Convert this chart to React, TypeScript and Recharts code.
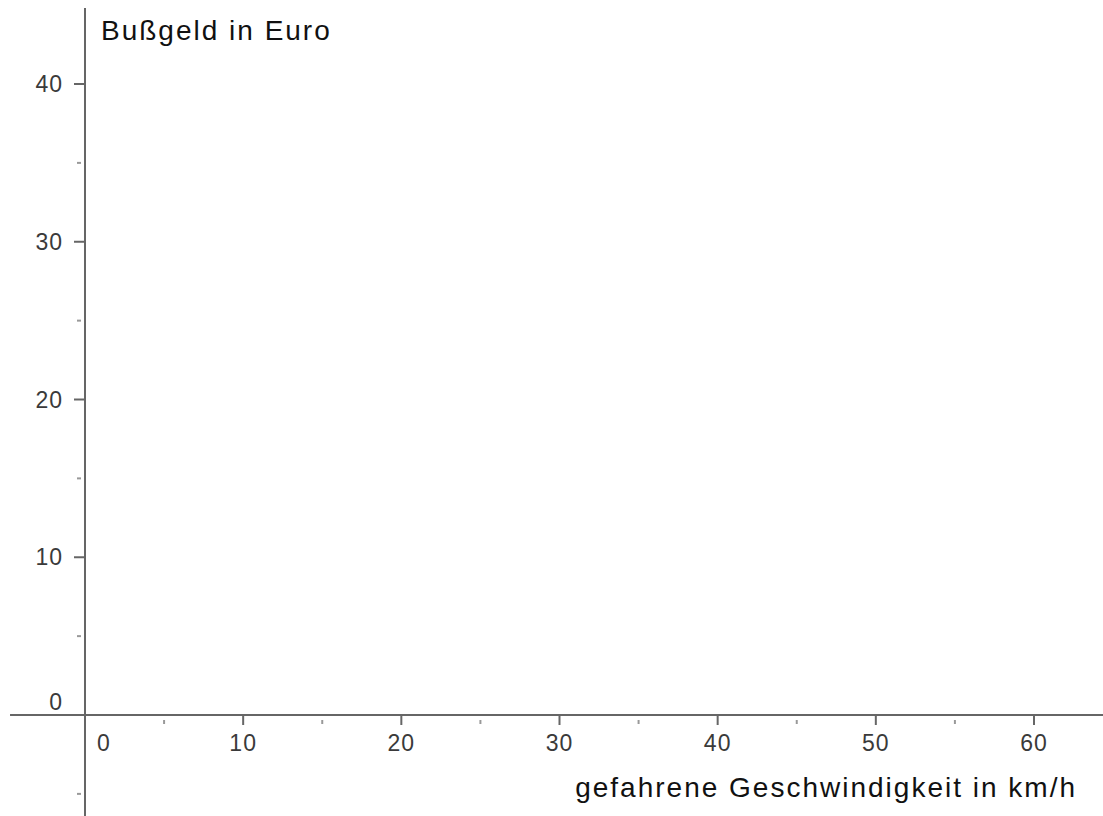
import React from 'react';
import { ComposedChart, XAxis, YAxis, ReferenceLine, ReferenceDot } from 'recharts';

// Axis tick values
const xMajorTicks = [0, 10, 20, 30, 40, 50, 60];
const xMinorTicks = [5, 15, 25, 35, 45, 55];
const yMajorTicks = [0, 10, 20, 30, 40];
const yMinorTicks = [-5, 5, 15, 25, 35];
const xTitle = 'gefahrene Geschwindigkeit in km/h';
const yTitle = 'Bußgeld in Euro';

// Visible window (data units)
const xDomain: [number, number] = [-5.374, 64.363];
const yDomain: [number, number] = [-6.402, 45.325];
const xAxisStart = -4.74;
const yAxisTop = 44.82;

const W = 1103;
const H = 816;
const AXIS = '#666666';
const LABEL = '#3a3a3a';
const FONT = '"Liberation Sans", Arial, sans-serif';

const XMajorTick = (label: number) => (props: any) => {
  const { cx, cy } = props;
  return (
    <g>
      <line x1={cx} y1={cy} x2={cx} y2={cy + 10} stroke={AXIS} strokeWidth={2} />
      <text
        x={label === 0 ? cx + 12 : cx}
        y={cy + 36}
        textAnchor={label === 0 ? 'start' : 'middle'}
        fontFamily={FONT}
        fontSize={23}
        letterSpacing={1}
        fill={LABEL}
      >
        {label}
      </text>
    </g>
  );
};

const YMajorTick = (label: number) => (props: any) => {
  const { cx, cy } = props;
  return (
    <g>
      <line x1={cx - 11} y1={cy} x2={cx} y2={cy} stroke={AXIS} strokeWidth={2} />
      <text
        x={cx - 22}
        y={label === 0 ? cy - 5 : cy + 8}
        textAnchor="end"
        fontFamily={FONT}
        fontSize={23}
        letterSpacing={1}
        fill={LABEL}
      >
        {label}
      </text>
    </g>
  );
};

const XMinorTick = (props: any) => {
  const { cx, cy } = props;
  return <line x1={cx} y1={cy + 5} x2={cx} y2={cy + 9} stroke="#999" strokeWidth={2} />;
};

const YMinorTick = (props: any) => {
  const { cx, cy } = props;
  return <line x1={cx - 8} y1={cy} x2={cx - 4} y2={cy} stroke="#999" strokeWidth={2} />;
};

const Titles = (props: any) => {
  const { cx, cy } = props;
  return (
    <g>
      <text x={cx + 16} y={cy - 675} fontFamily={FONT} fontSize={28} letterSpacing={2} fill="#111">
        {yTitle}
      </text>
      <text x={cx + 992} y={cy + 82} textAnchor="end" fontFamily={FONT} fontSize={28} letterSpacing={2} fill="#111">
        {xTitle}
      </text>
    </g>
  );
};

export default function App() {
  return (
    <div style={{ position: 'absolute', left: 0, top: 0, width: W, height: H, background: '#fff' }}>
      <ComposedChart width={W} height={H} data={[]} margin={{ top: 0, right: 0, bottom: 0, left: 0 }}>
        <XAxis type="number" dataKey="x" domain={xDomain} hide allowDataOverflow />
        <YAxis type="number" domain={yDomain} hide allowDataOverflow />
        <ReferenceLine
          segment={[{ x: xAxisStart, y: 0 }, { x: xDomain[1], y: 0 }]}
          stroke={AXIS}
          strokeWidth={2}
          ifOverflow="visible"
        />
        <ReferenceLine
          segment={[{ x: 0, y: yAxisTop }, { x: 0, y: yDomain[0] }]}
          stroke={AXIS}
          strokeWidth={2}
          ifOverflow="visible"
        />
        {xMinorTicks.map((v) => (
          <ReferenceDot key={'xm' + v} x={v} y={0} r={1} shape={XMinorTick} ifOverflow="visible" />
        ))}
        {yMinorTicks.map((v) => (
          <ReferenceDot key={'ym' + v} x={0} y={v} r={1} shape={YMinorTick} ifOverflow="visible" />
        ))}
        {xMajorTicks.map((v) => (
          <ReferenceDot key={'xM' + v} x={v} y={0} r={1} shape={XMajorTick(v)} ifOverflow="visible" />
        ))}
        {yMajorTicks.map((v) => (
          <ReferenceDot key={'yM' + v} x={0} y={v} r={1} shape={YMajorTick(v)} ifOverflow="visible" />
        ))}
        <ReferenceDot x={0} y={0} r={1} shape={Titles} ifOverflow="visible" />
      </ComposedChart>
    </div>
  );
}
